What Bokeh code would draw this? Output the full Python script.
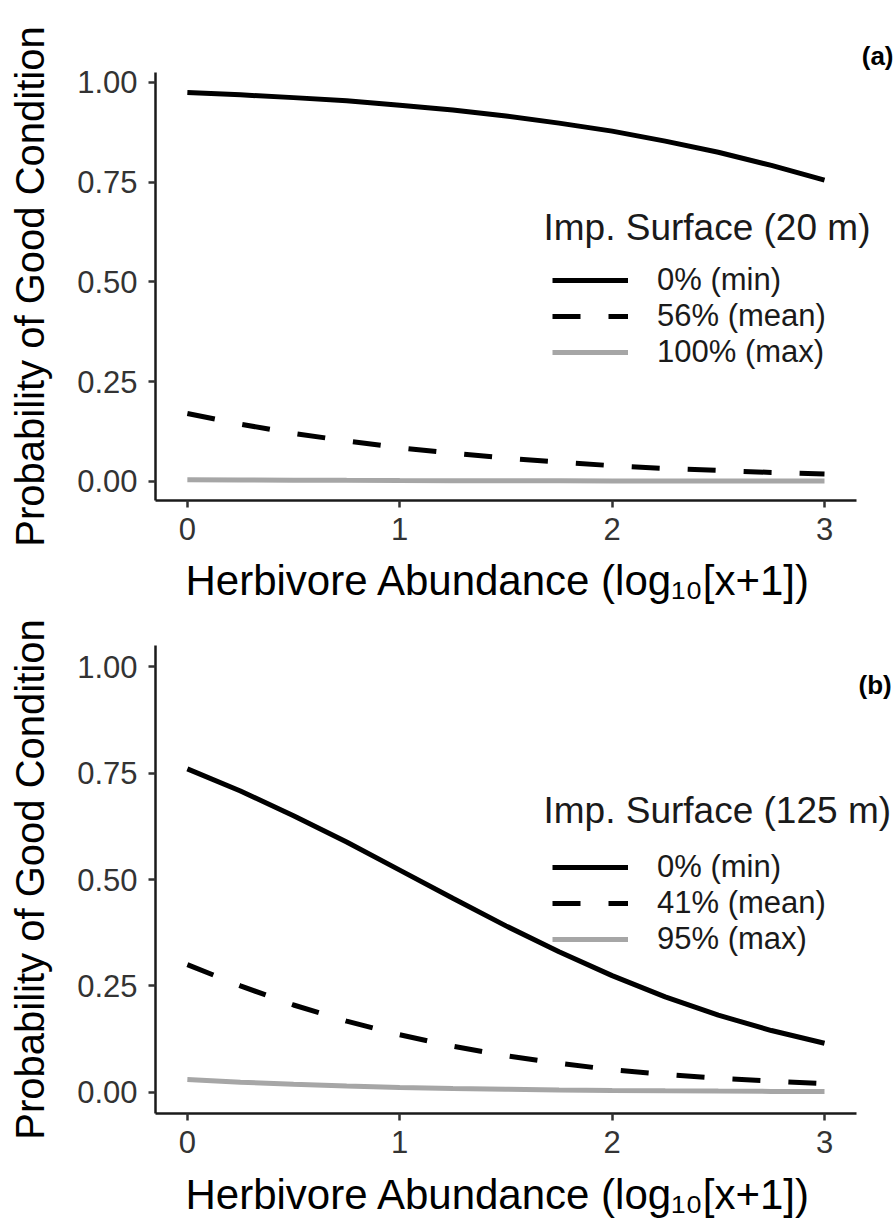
from bokeh.plotting import figure
from bokeh.layouts import column
from bokeh.models import (Legend, LegendItem, Label, Title, FixedTicker,
                          NumeralTickFormatter, Range1d)
from bokeh.embed import file_html
from bokeh.resources import INLINE

# ---- data ----
x_vals = [0, 0.25, 0.5, 0.75, 1.0, 1.25, 1.5, 1.75, 2.0, 2.25, 2.5, 2.75, 3.0]

# Panel (a): Imp. Surface (20 m)
a_min = [0.975, 0.969, 0.962, 0.954, 0.943, 0.931, 0.916, 0.898, 0.878, 0.853, 0.825, 0.792, 0.755]
a_mean = [0.170, 0.143, 0.120, 0.101, 0.084, 0.070, 0.058, 0.048, 0.039, 0.032, 0.027, 0.022, 0.018]
a_max = [0.004, 0.0033, 0.0027, 0.0022, 0.0018, 0.0015, 0.0012, 0.0010, 0.0008, 0.0007, 0.0005, 0.0004, 0.0003]
a_labels = ["0% (min)", "56% (mean)", "100% (max)"]
a_title = "Imp. Surface (20 m)"

# Panel (b): Imp. Surface (125 m)
b_min = [0.760, 0.708, 0.650, 0.588, 0.522, 0.456, 0.391, 0.330, 0.274, 0.224, 0.181, 0.145, 0.115]
b_mean = [0.300, 0.250, 0.205, 0.167, 0.135, 0.108, 0.086, 0.068, 0.053, 0.042, 0.033, 0.026, 0.020]
b_max = [0.030, 0.0236, 0.0185, 0.0145, 0.0113, 0.0089, 0.0069, 0.0054, 0.0042, 0.0033, 0.0026, 0.0020, 0.0016]
b_labels = ["0% (min)", "41% (mean)", "95% (max)"]
b_title = "Imp. Surface (125 m)"

x_ticks = [0, 1, 2, 3]
y_ticks = [0, 0.25, 0.5, 0.75, 1.0]
x_label = "Herbivore Abundance (log\u2081\u2080[x+1])"
y_label = "Probability of Good Condition"

FONT = "Liberation Sans"
GREY = "#a6a6a6"


def make_panel(series, labels, leg_title, tag, tag_above, top, bottom, frame_h,
               y_lo, y_hi, legend_y, leg_title_y, tag_y, xtitle_standoff):
    # The frame reaches the right edge so the legend title and tag are not clipped;
    # the x axis line itself is bounded to the panel's data extent.
    p = figure(frame_width=741, frame_height=frame_h, output_backend="svg",
               toolbar_location=None,
               x_range=Range1d(-0.15, 3.339), y_range=Range1d(y_lo, y_hi),
               min_border_left=155, min_border_right=0,
               min_border_top=top, min_border_bottom=bottom)
    p.outline_line_color = None
    p.grid.grid_line_color = None
    p.background_fill_color = "white"

    styles = [dict(line_color="black", line_dash="solid"),
              dict(line_color="black", line_dash="28 28"),
              dict(line_color=GREY, line_dash="solid")]
    rends = []
    for ys, st in zip(series, styles):
        r = p.line(x_vals, ys, line_width=5, **st)
        rends.append(r)

    for ax in (p.xaxis[0], p.yaxis[0]):
        ax.axis_line_color = "#1a1a1a"
        ax.axis_line_width = 2.5
        ax.major_tick_line_color = "#333333"
        ax.major_tick_line_width = 2.5
        ax.major_tick_out = 7
        ax.major_tick_in = 0
        ax.minor_tick_line_color = None
        ax.major_label_text_font = FONT
        ax.major_label_text_font_size = "31px"
        ax.major_label_text_color = "#333333"
        ax.axis_label_text_font = FONT
        ax.axis_label_text_font_style = "normal"
        ax.axis_label_text_color = "black"
    p.yaxis.axis_label_text_font_size = "40px"

    p.xaxis.bounds = (-0.15, 3.15)
    p.xaxis.ticker = FixedTicker(ticks=x_ticks)
    p.yaxis.ticker = FixedTicker(ticks=y_ticks)
    p.yaxis.formatter = NumeralTickFormatter(format="0.00")
    p.yaxis.axis_label = y_label
    p.xaxis.major_label_standoff = 10
    p.yaxis.major_label_standoff = 11
    p.yaxis.axis_label_standoff = 22

    # x axis title, left-aligned under the panel (the frame is wider than the panel)
    p.add_layout(Title(text=x_label, align="left", offset=30, standoff=xtitle_standoff,
                       text_font=FONT, text_font_size="42px", text_font_style="normal",
                       text_color="black"), "below")

    legend = Legend(
        items=[LegendItem(label=l, renderers=[r]) for l, r in zip(labels, rends)],
        location=(397, legend_y),
        label_text_font=FONT, label_text_font_size="31px", label_text_color="#1a1a1a",
        glyph_width=76, glyph_height=36, label_height=36, label_standoff=29,
        spacing=0, padding=0, margin=0,
        border_line_color=None, background_fill_alpha=0,
    )
    p.add_layout(legend)

    p.add_layout(Label(x=1.677, y=leg_title_y, text=leg_title, text_font=FONT,
                       text_font_size="37px", text_align="left", text_baseline="middle",
                       text_color="#1a1a1a"))
    if tag_above:
        p.add_layout(Title(text=tag, align="right", offset=3, standoff=4,
                           text_font=FONT, text_font_size="26px", text_font_style="bold",
                           text_color="black"), "above")
    else:
        p.add_layout(Label(x=3.16, y=tag_y, text=tag, text_font=FONT, text_font_size="26px",
                           text_font_style="bold", text_align="left",
                           text_baseline="middle", text_color="black"))
    return p


pa = make_panel([a_min, a_mean, a_max], a_labels, a_title, "(a)", True, 72, 118, 428,
                -0.0483, 1.025, 130, 0.637, None, 24)
pb = make_panel([b_min, b_mean, b_max], b_labels, b_title, "(b)", False, 27, 118, 468,
                -0.05, 1.05, 156, 0.662, 0.958, 26)

layout = column(pa, pb, spacing=0)
open("out.html", "w").write(file_html(layout, INLINE))
